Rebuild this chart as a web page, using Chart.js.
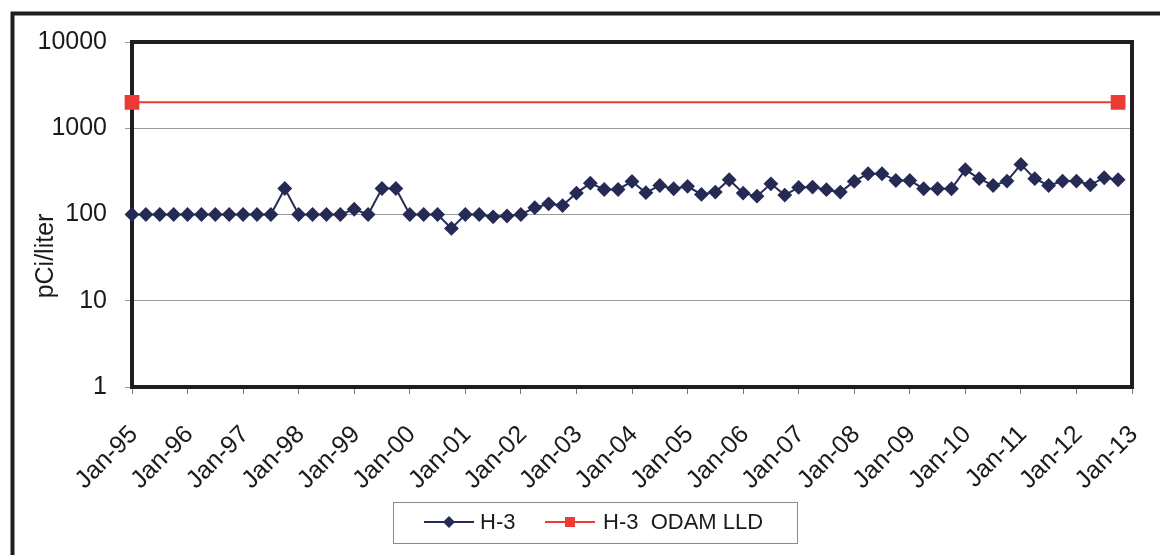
<!DOCTYPE html>
<html>
<head>
    <title>H-3</title>
    <script src="https://cdn.jsdelivr.net/npm/chart.js@4.4.0/dist/chart.umd.min.js"></script>
    <style>
        body { margin: 0; background: #fff; }
    </style>
</head>
<body>
    <canvas id="myChart" width="1160" height="555"></canvas>

    <script>
        // quarterly samples
        var sampleDates = [
            'Jan-95', 'Apr-95', 'Jul-95', 'Oct-95', 'Jan-96', 'Apr-96', 'Jul-96', 'Oct-96',
            'Jan-97', 'Apr-97', 'Jul-97', 'Oct-97', 'Jan-98', 'Apr-98', 'Jul-98', 'Oct-98',
            'Jan-99', 'Apr-99', 'Jul-99', 'Oct-99', 'Jan-00', 'Apr-00', 'Jul-00', 'Oct-00',
            'Jan-01', 'Apr-01', 'Jul-01', 'Oct-01', 'Jan-02', 'Apr-02', 'Jul-02', 'Oct-02',
            'Jan-03', 'Apr-03', 'Jul-03', 'Oct-03', 'Jan-04', 'Apr-04', 'Jul-04', 'Oct-04',
            'Jan-05', 'Apr-05', 'Jul-05', 'Oct-05', 'Jan-06', 'Apr-06', 'Jul-06', 'Oct-06',
            'Jan-07', 'Apr-07', 'Jul-07', 'Oct-07', 'Jan-08', 'Apr-08', 'Jul-08', 'Oct-08',
            'Jan-09', 'Apr-09', 'Jul-09', 'Oct-09', 'Jan-10', 'Apr-10', 'Jul-10', 'Oct-10',
            'Jan-11', 'Apr-11', 'Jul-11', 'Oct-11', 'Jan-12', 'Apr-12', 'Jul-12', 'Oct-12'
        ];
        var h3Values = [
            100, 100, 100, 100, 100, 100, 100, 100,
            100, 100, 100, 200, 100, 100, 100, 100,
            115, 100, 200, 200, 100, 100, 100, 69,
            100, 100, 94, 96, 100, 120, 133, 127,
            177, 231, 195, 195, 242, 179, 217, 199,
            212, 171, 182, 253, 177, 163, 227, 168,
            206, 208, 194, 182, 242, 297, 297, 248,
            248, 199, 199, 199, 331, 260, 217, 244,
            381, 260, 217, 244, 244, 221, 267, 253
        ];
        var odamDates = ['Jan-95', 'Oct-12'];
        var odamValues = [2000, 2000];

        var xTickLabels = [
            'Jan-95', 'Jan-96', 'Jan-97', 'Jan-98', 'Jan-99', 'Jan-00', 'Jan-01',
            'Jan-02', 'Jan-03', 'Jan-04', 'Jan-05', 'Jan-06', 'Jan-07', 'Jan-08',
            'Jan-09', 'Jan-10', 'Jan-11', 'Jan-12', 'Jan-13'
        ];
        var yTickValues = [1, 10, 100, 1000, 10000];

        var navy = '#262b55';
        var red = '#ec3a34';
        var font = '"Liberation Sans", Arial, sans-serif';
        var months = ['Jan', 'Feb', 'Mar', 'Apr', 'May', 'Jun', 'Jul', 'Aug', 'Sep', 'Oct', 'Nov', 'Dec'];

        function toYear(s) {
            var m = months.indexOf(s.slice(0, 3));
            var yy = parseInt(s.slice(4), 10);
            return (yy > 50 ? 1900 + yy : 2000 + yy) + m / 12;
        }

        function points(dates, values) {
            return dates.map(function(d, i) { return { x: toYear(d), y: values[i] }; });
        }

        var framePlugin = {
            id: 'frame',
            beforeDraw: function(chart) {
                var ctx = chart.ctx;
                ctx.save();
                ctx.fillStyle = '#fff';
                ctx.fillRect(0, 0, chart.width, chart.height);
                ctx.strokeStyle = '#1e1e1e';
                ctx.lineWidth = 4;
                ctx.beginPath();
                ctx.moveTo(12.5, chart.height + 5);
                ctx.lineTo(12.5, 13.5);
                ctx.lineTo(chart.width + 5, 13.5);
                ctx.stroke();
                ctx.restore();
            },
            beforeDatasetsDraw: function(chart) {
                var a = chart.chartArea;
                var ctx = chart.ctx;
                ctx.save();
                ctx.strokeStyle = '#1e1e1e';
                ctx.lineWidth = 4;
                ctx.strokeRect(a.left, a.top, a.right - a.left, a.bottom - a.top);
                ctx.restore();
            },
            afterDraw: function(chart) {
                var ctx = chart.ctx;
                ctx.save();
                // y title
                ctx.fillStyle = '#1a1a1a';
                ctx.font = '25px ' + font;
                ctx.translate(46, 256);
                ctx.rotate(-Math.PI / 2);
                ctx.textAlign = 'center';
                ctx.textBaseline = 'middle';
                ctx.fillText('pCi/liter', 0, 0);
                ctx.restore();

                // legend
                ctx.save();
                var ly = 522;
                ctx.strokeStyle = '#8a8a8a';
                ctx.lineWidth = 1;
                ctx.strokeRect(393.5, 502.5, 404, 41);

                ctx.strokeStyle = navy;
                ctx.lineWidth = 2;
                ctx.beginPath();
                ctx.moveTo(424, ly);
                ctx.lineTo(474, ly);
                ctx.stroke();
                ctx.fillStyle = navy;
                ctx.beginPath();
                ctx.moveTo(449, ly - 6);
                ctx.lineTo(455, ly);
                ctx.lineTo(449, ly + 6);
                ctx.lineTo(443, ly);
                ctx.closePath();
                ctx.fill();

                ctx.strokeStyle = red;
                ctx.beginPath();
                ctx.moveTo(545, ly);
                ctx.lineTo(595, ly);
                ctx.stroke();
                ctx.fillStyle = red;
                ctx.fillRect(565, ly - 5, 10, 10);

                ctx.fillStyle = '#1a1a1a';
                ctx.font = '22px ' + font;
                ctx.textBaseline = 'middle';
                ctx.textAlign = 'left';
                ctx.fillText('H-3', 480, ly + 1);
                ctx.fillText('H-3  ODAM LLD', 603, ly + 1);
                ctx.restore();
            }
        };

        var ctx = document.getElementById('myChart').getContext('2d');
        var chart = new Chart(ctx, {
            type: 'line',
            data: {
                datasets: [{
                    label: 'H-3',
                    data: points(sampleDates, h3Values),
                    borderColor: navy,
                    backgroundColor: navy,
                    borderWidth: 2,
                    pointStyle: 'rectRot',
                    pointRadius: 6,
                    pointHoverRadius: 6,
                    fill: false,
                    clip: false
                }, {
                    label: 'H-3  ODAM LLD',
                    data: points(odamDates, odamValues),
                    borderColor: red,
                    backgroundColor: red,
                    borderWidth: 2,
                    pointStyle: 'rect',
                    pointRadius: 9,
                    pointHoverRadius: 9,
                    fill: false,
                    clip: false
                }]
            },
            plugins: [framePlugin],
            options: {
                responsive: false,
                animation: false,
                devicePixelRatio: 1,
                layout: { padding: { left: 0, top: 42, right: 28, bottom: 0 } },
                plugins: {
                    legend: { display: false },
                    tooltip: { enabled: false }
                },
                scales: {
                    x: {
                        type: 'linear',
                        position: 'bottom',
                        min: toYear(xTickLabels[0]),
                        max: toYear(xTickLabels[xTickLabels.length - 1]),
                        afterBuildTicks: function(scale) {
                            scale.ticks = xTickLabels.map(function(l) { return { value: toYear(l) }; });
                        },
                        afterFit: function(scale) {
                            scale.height = 168;
                            scale.paddingLeft = 0;
                            scale.paddingRight = 0;
                        },
                        border: { display: false },
                        grid: {
                            drawOnChartArea: false,
                            drawTicks: true,
                            tickLength: 7,
                            color: '#777'
                        },
                        ticks: {
                            autoSkip: false,
                            maxRotation: 45,
                            minRotation: 45,
                            padding: 26,
                            labelOffset: 2,
                            color: '#1a1a1a',
                            font: { family: font, size: 25 },
                            callback: function(v, i) { return xTickLabels[i]; }
                        }
                    },
                    y: {
                        type: 'logarithmic',
                        min: 1,
                        max: 10000,
                        afterBuildTicks: function(scale) {
                            scale.ticks = yTickValues.map(function(v) { return { value: v }; });
                        },
                        afterFit: function(scale) {
                            scale.width = 132;
                            scale.paddingTop = 0;
                            scale.paddingBottom = 0;
                        },
                        border: { display: false },
                        grid: {
                            color: '#9a9a9a',
                            lineWidth: 1,
                            drawTicks: true,
                            tickLength: 7
                        },
                        ticks: {
                            padding: 18,
                            color: '#1a1a1a',
                            font: { family: font, size: 25 },
                            callback: function(v) { return String(v); }
                        }
                    }
                }
            }
        });
    </script>
</body>
</html>
